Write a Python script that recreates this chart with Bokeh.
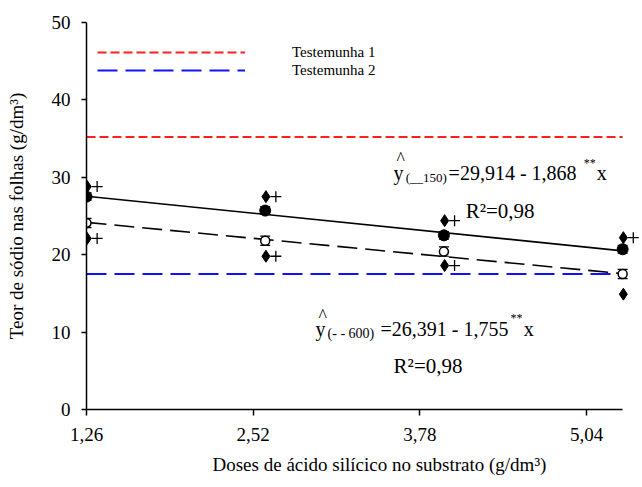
from bokeh.plotting import figure
from bokeh.models import (ColumnDataSource, Range1d, FixedTicker, Whisker, TeeHead,
                          Label, Legend, LegendItem, CustomJSTickFormatter, Title)
from bokeh.transform import dodge
from bokeh.embed import file_html
from bokeh.resources import INLINE

# ---------------- data ----------------
doses = [1.26, 2.52, 3.78, 5.04]
tick_labels = ["1,26", "2,52", "3,78", "5,04"]
y_150 = [27.5, 25.7, 22.5, 20.7]
y_600 = [24.1, 21.8, 20.4, 17.5]
err_150 = [0.5, 0.5, 0.5, 0.5]
err_600 = [0.6, 0.6, 0.6, 0.6]
upper_marks = [28.8, 27.5, 24.4, 22.2]
lower_marks = [22.1, 19.8, 18.6, 14.9]
lower_plus_doses = [1.26, 2.52, 3.78]
lower_plus = [22.1, 19.8, 18.6]
fit_150 = (29.914, -1.868)
fit_600 = (26.391, -1.755)
testemunha_1 = 35.2
testemunha_2 = 17.5
y_ticks = [0, 10, 20, 30, 40, 50]

FONT = "Liberation Serif"

p = figure(width=642, height=485, x_range=Range1d(1.26, 5.18), y_range=Range1d(0, 50),
           output_backend="svg", toolbar_location=None,
           min_border_left=86, min_border_right=0, min_border_top=22, min_border_bottom=76)
p.grid.visible = False
p.outline_line_color = None
p.background_fill_color = "white"

# axes
tick_step = (doses[-1] - doses[0]) * 0.311
tick_pos = [doses[0] + i * tick_step for i in range(len(tick_labels))]
p.xaxis.ticker = FixedTicker(ticks=tick_pos)
p.xaxis.formatter = CustomJSTickFormatter(args=dict(labels=tick_labels), code="return labels[index];")
p.xaxis.bounds = (doses[0], doses[-1])
p.yaxis.ticker = FixedTicker(ticks=y_ticks)
for ax in (p.xaxis, p.yaxis):
    ax.axis_line_width = 1.5
    ax.axis_line_color = "black"
    ax.major_tick_line_width = 1.5
    ax.major_tick_line_color = "black"
    ax.major_tick_in = 0
    ax.minor_tick_out = 0
    ax.minor_tick_in = 0
    ax.major_label_text_font = FONT
    ax.major_label_text_font_size = "19px"
    ax.major_label_text_color = "black"
    ax.axis_label_text_font = FONT
    ax.axis_label_text_font_size = "19px"
    ax.axis_label_text_font_style = "normal"
    ax.axis_label_text_color = "black"
p.xaxis.major_tick_out = 6
p.xaxis.major_label_standoff = 12
p.yaxis.major_tick_out = 5
p.yaxis.major_label_standoff = 11
p.yaxis.axis_label_standoff = 22
p.yaxis.axis_label = "Teor de sódio nas folhas (g/dm³)"

xtitle = Title(text="Doses de ácido silícico no substrato (g/dm³)", align="left", offset=126,
               standoff=16, text_font=FONT, text_font_size="19px", text_font_style="normal",
               text_color="black")
p.add_layout(xtitle, "below")

# reference lines
ends = [doses[0], doses[-1]]
r_t1 = p.line(ends, [testemunha_1] * 2, line_color="#ff2020", line_width=2, line_dash="9 4")
r_t2 = p.line(ends, [testemunha_2] * 2, line_color="#1010ff", line_width=2, line_dash="20 8")

# regression lines
p.line(ends, [fit_150[0] + fit_150[1] * x for x in ends], line_color="black", line_width=1.6)
p.line(ends, [fit_600[0] + fit_600[1] * x for x in ends], line_color="black", line_width=1.6,
       line_dash="20 8")

src = ColumnDataSource(dict(
    x=doses, y150=y_150, y600=y_600,
    up150=[v + e for v, e in zip(y_150, err_150)], lo150=[v - e for v, e in zip(y_150, err_150)],
    up600=[v + e for v, e in zip(y_600, err_600)], lo600=[v - e for v, e in zip(y_600, err_600)],
    upper=upper_marks, lower=lower_marks))
psrc = ColumnDataSource(dict(x=lower_plus_doses, y=lower_plus))

for up, lo in (("up150", "lo150"), ("up600", "lo600")):
    p.add_layout(Whisker(source=src, base="x", upper=up, lower=lo, line_width=1.2,
                         upper_head=TeeHead(size=10, line_width=1.2),
                         lower_head=TeeHead(size=10, line_width=1.2)))

p.scatter("x", "y150", source=src, marker="circle", size=11, fill_color="black", line_color="black")
p.scatter("x", "y600", source=src, marker="circle", size=9, fill_color="white",
          line_color="black", line_width=1.5)

p.scatter(dodge("x", 0.005, range=p.x_range), "upper", source=src, marker="diamond",
          size=12, color="black")
p.scatter(dodge("x", 0.005, range=p.x_range), "lower", source=src, marker="diamond",
          size=12, color="black")
p.scatter(dodge("x", 0.075, range=p.x_range), "upper", source=src, marker="cross",
          size=11, line_color="black", line_width=1.3)
p.scatter(dodge("x", 0.075, range=p.x_range), "y", source=psrc, marker="cross",
          size=11, line_color="black", line_width=1.3)

# legend
legend = Legend(items=[LegendItem(label="Testemunha 1", renderers=[r_t1]),
                       LegendItem(label="Testemunha 2", renderers=[r_t2])],
                location=(11, 330), orientation="vertical",
                glyph_width=148, glyph_height=18, label_height=18, label_standoff=47,
                spacing=0, padding=0, margin=0,
                label_text_font=FONT, label_text_font_size="15px", label_text_color="black",
                border_line_alpha=0, background_fill_alpha=0)
p.add_layout(legend)


def lab(x, y, text, size):
    p.add_layout(Label(x=x, y=y, text=text, text_font=FONT, text_font_size=f"{size}px",
                       text_baseline="alphabetic", text_color="black"))


# equation 1
lab(3.446, 32.30, "^", 18)
lab(3.425, 30.61, "y", 20)
lab(3.510, 29.96, "(__150)", 13)
lab(3.813, 30.61, "=29,914 - 1,868", 20)
lab(4.765, 31.90, "**", 12)
lab(4.857, 30.61, "x", 20)
lab(3.933, 25.69, "R²=0,98", 21)

# equation 2
lab(2.896, 12.10, "^", 18)
lab(2.875, 10.43, "y", 20)
lab(2.960, 9.79, "(- - 600)", 14)
lab(3.333, 10.43, "=26,391 - 1,755", 20)
lab(4.250, 11.86, "**", 12)
lab(4.342, 10.43, "x", 20)
lab(3.425, 5.65, "R²=0,98", 21)

open("out.html", "w").write(file_html(p, INLINE))
